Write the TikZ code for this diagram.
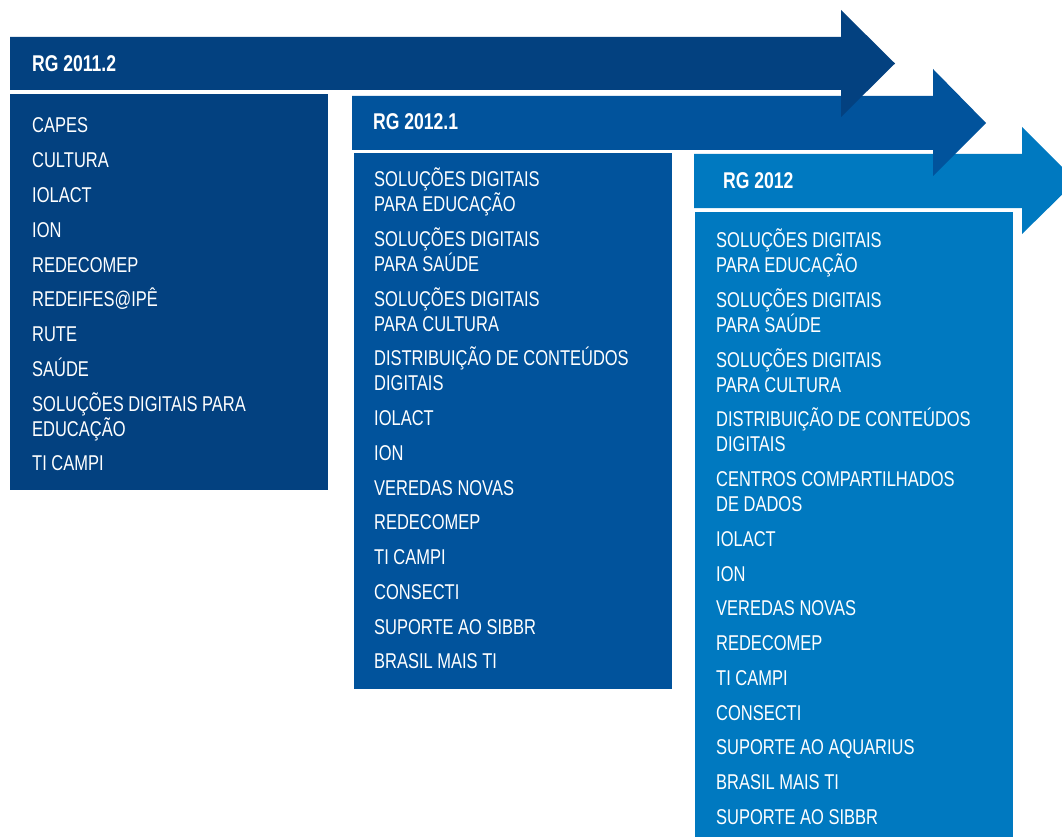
\documentclass[tikz,border=0pt]{standalone}
\usepackage{fontspec}
\setmainfont{Liberation Sans}[FakeStretch=0.77]
\usepackage{tikz}
\usetikzlibrary{positioning}

\definecolor{rgdark}{RGB}{3,65,128}
\definecolor{rgmid}{RGB}{1,83,156}
\definecolor{rglight}{RGB}{0,121,192}

\begin{document}
\begin{tikzpicture}[x=1pt, y=-1pt,
    every node/.style={text=white, inner sep=0pt, anchor=base west},
    item/.style={font=\fontsize{21.4}{25}\selectfont},
    head/.style={font=\fontsize{22.8}{26}\selectfont\bfseries}]
  \useasboundingbox (0,0) rectangle (1062,837);
  \clip (0,0) rectangle (1062,837);
  % RG 2012 arrow and list
  \fill[rglight] (694,154) -- (1022,154) -- (1022,127) -- (1076,181)
    -- (1022,234) -- (1022,208) -- (694,208) -- cycle;
  \fill[rglight] (695,212) rectangle (1013,850);
  \node[head] (h3) at (723,189) {RG 2012};
  \foreach \a/\b [count=\i from 0] in {SOLUÇÕES DIGITAIS/PARA EDUCAÇÃO,
      SOLUÇÕES DIGITAIS/PARA SAÚDE, SOLUÇÕES DIGITAIS/PARA CULTURA,
      DISTRIBUIÇÃO DE CONTEÚDOS/DIGITAIS, CENTROS COMPARTILHADOS/DE DADOS} {
    \node[item] (c3-\i) at (716, 247.7+59.75*\i) {\a};
    \node[item] (c3-\i-2) at (716, 272.7+59.75*\i) {\b};
  }
  \foreach \t [count=\i from 0] in {IOLACT, ION, VEREDAS NOVAS, REDECOMEP,
      TI CAMPI, CONSECTI, SUPORTE AO AQUARIUS, BRASIL MAIS TI, SUPORTE AO SIBBR}
    \node[item] (c3-s\i) at (716, 546.45+34.75*\i) {\t};

  % RG 2012.1 arrow and list
  \fill[rgmid] (352,96) -- (933,96) -- (933,69) -- (986,123)
    -- (933,176) -- (933,150) -- (352,150) -- cycle;
  \fill[rgmid] (354,153) rectangle (672,689);
  \node[head] (h2) at (373,130) {RG 2012.1};
  \foreach \a/\b [count=\i from 0] in {SOLUÇÕES DIGITAIS/PARA EDUCAÇÃO,
      SOLUÇÕES DIGITAIS/PARA SAÚDE, SOLUÇÕES DIGITAIS/PARA CULTURA,
      DISTRIBUIÇÃO DE CONTEÚDOS/DIGITAIS} {
    \node[item] (c2-\i) at (374, 186.5+59.75*\i) {\a};
    \node[item] (c2-\i-2) at (374, 211.5+59.75*\i) {\b};
  }
  \foreach \t [count=\i from 0] in {IOLACT, ION, VEREDAS NOVAS, REDECOMEP,
      TI CAMPI, CONSECTI, SUPORTE AO SIBBR, BRASIL MAIS TI}
    \node[item] (c2-s\i) at (374, 425.5+34.75*\i) {\t};

  % RG 2011.2 arrow and list
  \fill[rgdark] (10,37) -- (841,37) -- (841,10) -- (895,63.5)
    -- (841,117) -- (841,90) -- (10,90) -- cycle;
  \fill[rgdark] (10,94) rectangle (328,490);
  \node[head] (h1) at (32,72) {RG 2011.2};
  \foreach \t [count=\i from 0] in {CAPES, CULTURA, IOLACT, ION, REDECOMEP,
      REDEIFES@IPÊ, RUTE, SAÚDE}
    \node[item] (c1-s\i) at (32, 133+34.75*\i) {\t};
  \node[item] (c1-8) at (32,411) {SOLUÇÕES DIGITAIS PARA};
  \node[item] (c1-8-2) at (32,436) {EDUCAÇÃO};
  \node[item] (c1-9) at (32,470.75) {TI CAMPI};
\end{tikzpicture}
\end{document}
